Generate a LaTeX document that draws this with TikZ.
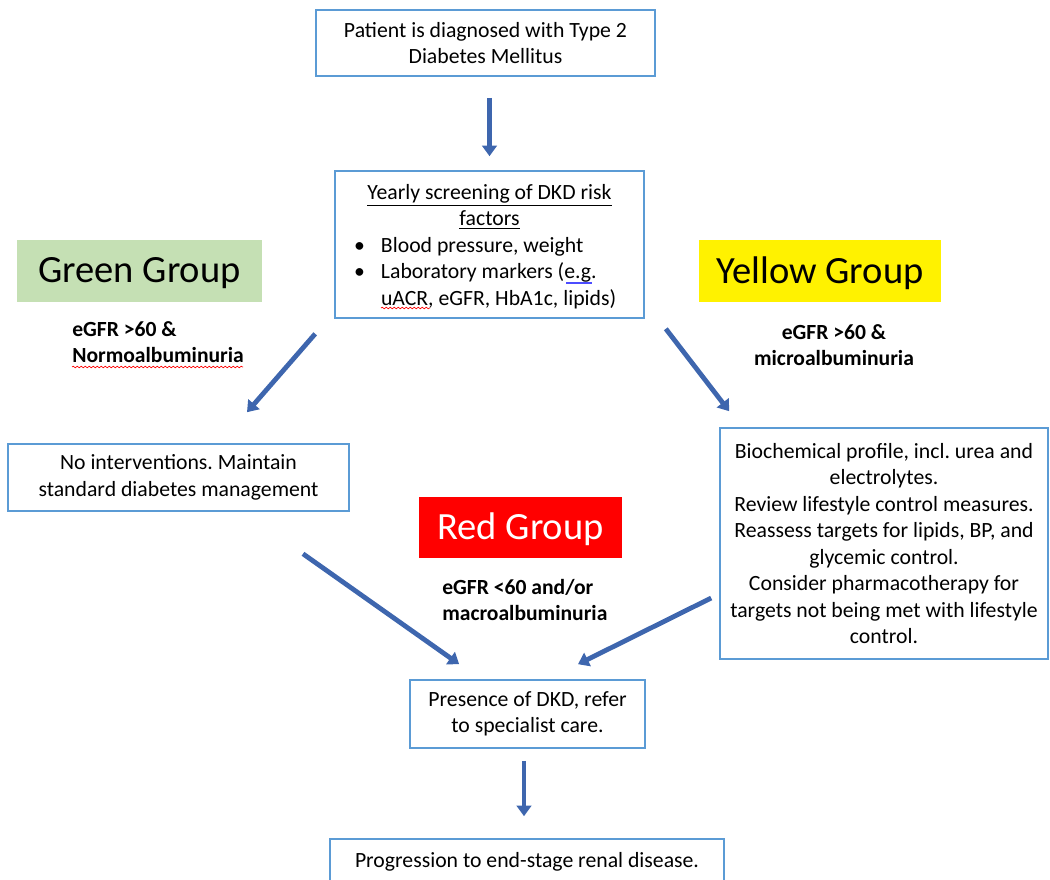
\documentclass[tikz,border=0pt]{standalone}
\usepackage{fontspec}
\setmainfont{Carlito}
\usetikzlibrary{arrows.meta,calc,decorations.pathmorphing}
\frenchspacing

\definecolor{boxblue}{HTML}{5B9BD5}
\definecolor{arrowblue}{HTML}{3E66AE}
\definecolor{grpgreen}{HTML}{C5E0B4}
\newlength\px \setlength\px{0.75pt}

\tikzset{
  box/.style={draw=boxblue,line width=1.2pt,align=center,inner sep=0pt,font=\fontsize{16.3}{19.9}\selectfont\frenchspacing},
  grp/.style={inner sep=0pt,font=\fontsize{28.9}{34}\selectfont},
  crit/.style={inner sep=0pt,font=\fontsize{16.2}{18.8}\selectfont\bfseries},
  flow/.style={line width=3.6pt,draw=arrowblue,-{Triangle[width=11pt,length=8pt]}},
  spell/.style={red,line width=0.5pt,decorate,decoration={snake,amplitude=0.6pt,segment length=3pt}}
}

\begin{document}
\begin{tikzpicture}[x=0.75pt,y=-0.75pt]
\useasboundingbox (0,0) rectangle (1050,879);

\node[box,minimum width=339\px,minimum height=66\px] (diag) at (485.5,43) {Patient is diagnosed with Type 2\\Diabetes Mellitus};
\node[box,minimum width=309\px,minimum height=147\px] (scr) at (489.5,244.5) {};
\node[box,draw=none,text width=271\px,align=flush left] (scrtext) at ($(scr.center)+(0,2)$)
  {{\centering\underline{Yearly screening of DKD risk}\\\underline{factors}\par}
   \makebox[27\px][l]{\textbullet}Blood pressure, weight\\
   \makebox[27\px][l]{\textbullet}Laboratory markers (e.g.\\
   \hspace*{27\px}uACR, eGFR, HbA1c, lipids)};

\node[grp,fill=grpgreen,minimum width=245\px,minimum height=62\px,text depth=0.2em] (green) at (139.5,271) {Green Group};
\node[grp,fill=yellow,minimum width=242\px,minimum height=62\px,text depth=0.2em] (yellow) at (820,271) {Yellow Group};
\node[grp,fill=red,text=white,minimum width=203\px,minimum height=61\px,text depth=0.2em] (red) at (520.5,527.5) {Red Group};

\node[crit,align=left,anchor=base west] (greencrit) at (72,362) {eGFR >60 \&\\Normoalbuminuria};
\node[crit,align=center,anchor=base] (yellowcrit) at (834,365) {eGFR >60 \&\\microalbuminuria};
\node[crit,align=left,anchor=base west] (redcrit) at (442,620) {eGFR <60 and/or\\macroalbuminuria};

\node[box,minimum width=341\px,minimum height=67\px] (noint) at (178.5,477.5) {No interventions. Maintain\\standard diabetes management};
\node[box,minimum width=328\px,minimum height=231\px] (bio) at (884,543.5)
  {Biochemical profile, incl. urea and\\electrolytes.\\Review lifestyle control measures.\\Reassess targets for lipids, BP, and\\glycemic control.\\Consider pharmacotherapy for\\targets not being met with lifestyle\\control.};
\node[box,minimum width=235\px,minimum height=68\px] (pres) at (527.5,714) {Presence of DKD, refer\\to specialist care.};
\node[box,minimum width=394\px,minimum height=46\px] (prog) at (527,862) {Progression to end-stage renal disease.};

% spell-check marks
\draw[spell] (72,367) -- (243,367);
\draw[spell] (381,308) -- (430,308);
\draw[blue!70,line width=0.8pt] (566,283) -- (592,283);

\draw[flow,shorten <=21\px,shorten >=14\px] (scr.north |- diag.south) -- (scr.north);
\draw[flow] ($(scr.south west)+(-19,15)$) -- ($(noint.north)+(68.5,-31)$);
\draw[flow] ($(scr.south east)+(21,10)$) -- ($(bio.north west)+(10,-16)$);
\draw[flow] ($(noint.south)+(124.5,42)$) -- ($(pres.north west)+(50,-15)$);
\draw[flow] ($(bio.west)+(-8,54.5)$) -- ($(pres.north)+(50.5,-15)$);
\draw[flow] ($(pres.south)+(-3.5,12)$) -- ($(prog.north)+(-3,-22)$);
\end{tikzpicture}
\end{document}
